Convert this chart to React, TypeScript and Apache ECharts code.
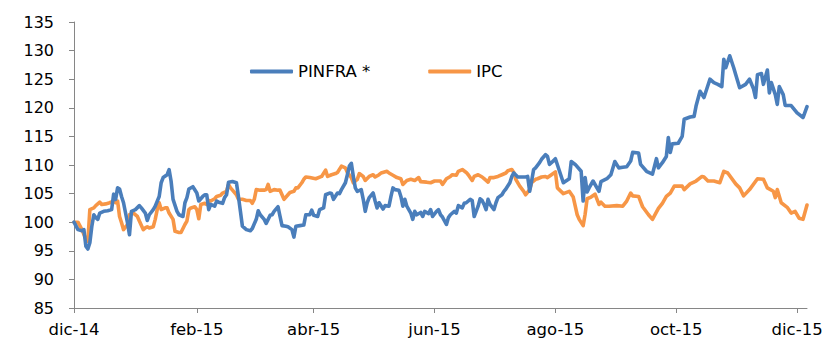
import React, { useEffect, useRef } from "react";
import * as echarts from "echarts";

const seriesNames = ["PINFRA *", "IPC"];
const monthNames = ["ene", "feb", "mar", "abr", "may", "jun", "jul", "ago", "sep", "oct", "nov", "dic"];
const xTickDates = ["2014-12-01", "2015-02-01", "2015-04-01", "2015-06-01", "2015-08-01", "2015-10-01", "2015-12-01"];
const xMin = "2014-12-01";
const xMax = "2015-12-06";
const yMin = 85;
const yMax = 135;
const yStep = 5;

const pinfra: [string, number][] = [
  ["2014-12-01", 100.0], ["2014-12-03", 98.7], ["2014-12-05", 98.5], ["2014-12-06", 98.7], ["2014-12-07", 95.8],
  ["2014-12-08", 95.3], ["2014-12-09", 96.4], ["2014-12-10", 99.3], ["2014-12-11", 101.3], ["2014-12-12", 100.8],
  ["2014-12-13", 100.5], ["2014-12-14", 101.6], ["2014-12-16", 101.9], ["2014-12-18", 102.0], ["2014-12-20", 102.2],
  ["2014-12-21", 104.9], ["2014-12-22", 104.0], ["2014-12-23", 106.0], ["2014-12-24", 105.8], ["2014-12-25", 104.5],
  ["2014-12-26", 103.4], ["2014-12-28", 99.9], ["2014-12-29", 97.8], ["2014-12-30", 101.9], ["2015-01-01", 102.2],
  ["2015-01-03", 102.9], ["2015-01-04", 102.5], ["2015-01-06", 101.6], ["2015-01-07", 100.3], ["2015-01-08", 101.3],
  ["2015-01-10", 102.2], ["2015-01-11", 102.8], ["2015-01-13", 104.5], ["2015-01-14", 106.9], ["2015-01-15", 107.8],
  ["2015-01-17", 108.3], ["2015-01-18", 109.2], ["2015-01-19", 107.2], ["2015-01-20", 104.0], ["2015-01-22", 101.9],
  ["2015-01-23", 101.3], ["2015-01-25", 101.0], ["2015-01-26", 103.4], ["2015-01-27", 104.3], ["2015-01-28", 105.8],
  ["2015-01-30", 106.2], ["2015-02-01", 105.1], ["2015-02-02", 103.7], ["2015-02-04", 104.5], ["2015-02-05", 104.8],
  ["2015-02-06", 104.8], ["2015-02-07", 102.2], ["2015-02-08", 103.1], ["2015-02-10", 102.8], ["2015-02-11", 103.7],
  ["2015-02-12", 103.5], ["2015-02-14", 103.3], ["2015-02-15", 104.3], ["2015-02-16", 104.8], ["2015-02-17", 107.0],
  ["2015-02-19", 107.1], ["2015-02-21", 106.9], ["2015-02-22", 104.5], ["2015-02-23", 101.9], ["2015-02-24", 99.3],
  ["2015-02-26", 98.7], ["2015-02-28", 98.5], ["2015-03-01", 98.9], ["2015-03-03", 100.5], ["2015-03-04", 102.0],
  ["2015-03-05", 101.3], ["2015-03-07", 100.5], ["2015-03-08", 99.8], ["2015-03-10", 101.2], ["2015-03-11", 101.3],
  ["2015-03-12", 101.9], ["2015-03-14", 102.7], ["2015-03-15", 101.0], ["2015-03-16", 99.4], ["2015-03-18", 99.3],
  ["2015-03-19", 99.2], ["2015-03-21", 98.7], ["2015-03-22", 97.4], ["2015-03-23", 99.3], ["2015-03-25", 99.4],
  ["2015-03-27", 99.5], ["2015-03-28", 101.3], ["2015-03-30", 101.3], ["2015-03-31", 102.1], ["2015-04-01", 101.2],
  ["2015-04-03", 101.0], ["2015-04-04", 102.2], ["2015-04-06", 102.5], ["2015-04-07", 104.8], ["2015-04-09", 105.1],
  ["2015-04-10", 105.0], ["2015-04-11", 104.0], ["2015-04-13", 105.1], ["2015-04-14", 105.0], ["2015-04-15", 105.7],
  ["2015-04-17", 106.9], ["2015-04-18", 108.3], ["2015-04-19", 109.8], ["2015-04-20", 110.3], ["2015-04-21", 108.0],
  ["2015-04-22", 106.0], ["2015-04-23", 105.4], ["2015-04-25", 105.7], ["2015-04-26", 104.0], ["2015-04-27", 101.9],
  ["2015-04-28", 103.4], ["2015-04-29", 104.3], ["2015-05-01", 105.1], ["2015-05-02", 103.7], ["2015-05-03", 102.5],
  ["2015-05-04", 103.4], ["2015-05-06", 102.3], ["2015-05-07", 102.9], ["2015-05-09", 102.8], ["2015-05-10", 104.5],
  ["2015-05-11", 106.0], ["2015-05-12", 105.7], ["2015-05-14", 105.6], ["2015-05-15", 104.5], ["2015-05-16", 102.8],
  ["2015-05-17", 104.0], ["2015-05-18", 102.8], ["2015-05-20", 101.6], ["2015-05-21", 100.5], ["2015-05-22", 101.9],
  ["2015-05-23", 101.3], ["2015-05-25", 101.7], ["2015-05-26", 101.0], ["2015-05-27", 101.9], ["2015-05-29", 101.5],
  ["2015-05-30", 102.2], ["2015-05-31", 101.0], ["2015-06-02", 101.9], ["2015-06-03", 102.2], ["2015-06-04", 101.3],
  ["2015-06-05", 100.9], ["2015-06-07", 99.6], ["2015-06-08", 100.8], ["2015-06-09", 101.3], ["2015-06-11", 101.9],
  ["2015-06-12", 101.6], ["2015-06-13", 102.9], ["2015-06-15", 102.5], ["2015-06-16", 103.3], ["2015-06-17", 103.4],
  ["2015-06-19", 104.0], ["2015-06-20", 103.8], ["2015-06-21", 101.0], ["2015-06-23", 102.8], ["2015-06-24", 104.1],
  ["2015-06-25", 103.8], ["2015-06-26", 103.1], ["2015-06-27", 102.2], ["2015-06-28", 104.0], ["2015-06-29", 103.1],
  ["2015-07-01", 102.2], ["2015-07-02", 103.4], ["2015-07-03", 104.3], ["2015-07-05", 104.8], ["2015-07-06", 105.4],
  ["2015-07-07", 105.8], ["2015-07-09", 106.9], ["2015-07-10", 108.0], ["2015-07-11", 108.6], ["2015-07-13", 107.9],
  ["2015-07-15", 107.9], ["2015-07-17", 107.9], ["2015-07-18", 108.0], ["2015-07-19", 105.4], ["2015-07-20", 107.2],
  ["2015-07-21", 109.2], ["2015-07-22", 109.5], ["2015-07-24", 110.4], ["2015-07-25", 111.0], ["2015-07-27", 111.8],
  ["2015-07-28", 111.5], ["2015-07-29", 110.1], ["2015-07-30", 110.4], ["2015-08-01", 111.1], ["2015-08-05", 106.9],
  ["2015-08-08", 107.6], ["2015-08-09", 110.6], ["2015-08-11", 110.1], ["2015-08-14", 108.9], ["2015-08-15", 103.7],
  ["2015-08-16", 107.8], ["2015-08-17", 105.3], ["2015-08-18", 106.0], ["2015-08-20", 107.2], ["2015-08-23", 105.4],
  ["2015-08-24", 107.1], ["2015-08-27", 107.6], ["2015-08-29", 108.3], ["2015-08-31", 110.6], ["2015-09-02", 109.5],
  ["2015-09-04", 109.6], ["2015-09-06", 109.7], ["2015-09-08", 110.7], ["2015-09-09", 112.2], ["2015-09-12", 112.1],
  ["2015-09-13", 110.1], ["2015-09-16", 108.9], ["2015-09-19", 108.4], ["2015-09-21", 111.1], ["2015-09-22", 109.5],
  ["2015-09-24", 110.4], ["2015-09-26", 111.5], ["2015-09-27", 114.8], ["2015-09-28", 112.2], ["2015-09-29", 113.7],
  ["2015-10-02", 113.8], ["2015-10-04", 115.0], ["2015-10-05", 118.0], ["2015-10-08", 118.4], ["2015-10-10", 118.5],
  ["2015-10-11", 120.3], ["2015-10-13", 122.9], ["2015-10-15", 121.8], ["2015-10-18", 125.0], ["2015-10-20", 124.4],
  ["2015-10-22", 124.1], ["2015-10-24", 123.7], ["2015-10-25", 128.5], ["2015-10-26", 127.0], ["2015-10-28", 129.1],
  ["2015-10-30", 127.0], ["2015-10-31", 125.8], ["2015-11-02", 123.5], ["2015-11-05", 124.1], ["2015-11-07", 125.0],
  ["2015-11-09", 123.3], ["2015-11-10", 121.8], ["2015-11-11", 125.8], ["2015-11-13", 126.0], ["2015-11-14", 124.1],
  ["2015-11-16", 126.6], ["2015-11-17", 122.6], ["2015-11-18", 124.4], ["2015-11-20", 122.3], ["2015-11-21", 120.6],
  ["2015-11-22", 123.7], ["2015-11-24", 122.3], ["2015-11-25", 120.4], ["2015-11-28", 120.4], ["2015-12-01", 119.1],
  ["2015-12-04", 118.3], ["2015-12-06", 120.2],
];

const ipc: [string, number][] = [
  ["2014-12-01", 100.0], ["2014-12-03", 100.0], ["2014-12-05", 98.7], ["2014-12-07", 97.0], ["2014-12-08", 96.7],
  ["2014-12-09", 102.2], ["2014-12-11", 102.5], ["2014-12-12", 102.9], ["2014-12-14", 103.5], ["2014-12-15", 103.1],
  ["2014-12-17", 103.2], ["2014-12-19", 103.4], ["2014-12-21", 103.7], ["2014-12-22", 103.4], ["2014-12-23", 103.7],
  ["2014-12-24", 101.0], ["2014-12-25", 99.9], ["2014-12-26", 98.7], ["2014-12-28", 99.6], ["2014-12-29", 101.3],
  ["2014-12-31", 101.6], ["2015-01-02", 101.0], ["2015-01-03", 100.2], ["2015-01-05", 98.7], ["2015-01-06", 99.0],
  ["2015-01-07", 99.2], ["2015-01-08", 99.0], ["2015-01-10", 99.2], ["2015-01-11", 100.5], ["2015-01-12", 102.2],
  ["2015-01-13", 103.4], ["2015-01-14", 102.2], ["2015-01-16", 102.5], ["2015-01-17", 102.5], ["2015-01-18", 101.6],
  ["2015-01-20", 100.5], ["2015-01-21", 98.4], ["2015-01-23", 98.2], ["2015-01-24", 98.2], ["2015-01-26", 99.6],
  ["2015-01-27", 100.2], ["2015-01-28", 102.2], ["2015-01-29", 102.5], ["2015-01-31", 102.7], ["2015-02-01", 102.2],
  ["2015-02-02", 100.6], ["2015-02-03", 103.1], ["2015-02-05", 103.3], ["2015-02-06", 103.1], ["2015-02-07", 103.8],
  ["2015-02-08", 103.7], ["2015-02-10", 104.1], ["2015-02-11", 104.5], ["2015-02-13", 104.7], ["2015-02-14", 105.1],
  ["2015-02-16", 105.4], ["2015-02-17", 106.6], ["2015-02-18", 106.0], ["2015-02-19", 105.6], ["2015-02-21", 104.8],
  ["2015-02-22", 104.0], ["2015-02-24", 104.0], ["2015-02-26", 103.8], ["2015-02-28", 103.8], ["2015-03-01", 103.3],
  ["2015-03-02", 104.0], ["2015-03-03", 105.7], ["2015-03-05", 105.6], ["2015-03-07", 105.6], ["2015-03-08", 105.7],
  ["2015-03-09", 106.6], ["2015-03-10", 105.4], ["2015-03-12", 105.7], ["2015-03-14", 105.6], ["2015-03-15", 105.6],
  ["2015-03-17", 104.0], ["2015-03-19", 104.8], ["2015-03-20", 105.2], ["2015-03-22", 105.4], ["2015-03-23", 106.0],
  ["2015-03-24", 106.0], ["2015-03-26", 106.9], ["2015-03-27", 107.5], ["2015-03-28", 107.9], ["2015-03-30", 107.8],
  ["2015-04-02", 107.6], ["2015-04-05", 108.0], ["2015-04-07", 109.1], ["2015-04-08", 108.0], ["2015-04-10", 108.3],
  ["2015-04-12", 108.5], ["2015-04-13", 108.7], ["2015-04-15", 109.8], ["2015-04-17", 109.5], ["2015-04-18", 108.7],
  ["2015-04-20", 107.8], ["2015-04-21", 106.9], ["2015-04-23", 107.5], ["2015-04-24", 108.5], ["2015-04-26", 108.0],
  ["2015-04-27", 107.3], ["2015-04-29", 108.0], ["2015-05-01", 108.3], ["2015-05-02", 107.9], ["2015-05-04", 108.3],
  ["2015-05-05", 108.6], ["2015-05-08", 108.9], ["2015-05-09", 108.6], ["2015-05-11", 108.2], ["2015-05-13", 107.8],
  ["2015-05-15", 107.6], ["2015-05-16", 106.6], ["2015-05-18", 107.3], ["2015-05-20", 107.5], ["2015-05-22", 107.3],
  ["2015-05-24", 107.8], ["2015-05-25", 107.1], ["2015-05-28", 107.0], ["2015-05-30", 106.9], ["2015-06-01", 107.2],
  ["2015-06-04", 107.2], ["2015-06-05", 106.6], ["2015-06-07", 107.6], ["2015-06-09", 108.0], ["2015-06-10", 108.3],
  ["2015-06-12", 108.2], ["2015-06-13", 108.9], ["2015-06-15", 109.2], ["2015-06-17", 108.7], ["2015-06-18", 108.3],
  ["2015-06-20", 107.3], ["2015-06-21", 108.0], ["2015-06-23", 108.3], ["2015-06-25", 107.9], ["2015-06-26", 107.6],
  ["2015-06-28", 107.0], ["2015-06-29", 107.8], ["2015-07-01", 107.8], ["2015-07-03", 108.0], ["2015-07-05", 108.3],
  ["2015-07-07", 108.6], ["2015-07-08", 109.0], ["2015-07-10", 109.2], ["2015-07-11", 108.7], ["2015-07-12", 107.5],
  ["2015-07-14", 106.3], ["2015-07-16", 105.4], ["2015-07-17", 104.8], ["2015-07-19", 105.7], ["2015-07-20", 106.9],
  ["2015-07-22", 107.5], ["2015-07-23", 107.6], ["2015-07-25", 107.9], ["2015-07-27", 108.0], ["2015-07-28", 107.8],
  ["2015-07-30", 108.3], ["2015-08-01", 108.8], ["2015-08-02", 106.0], ["2015-08-05", 105.0], ["2015-08-08", 105.4],
  ["2015-08-10", 104.4], ["2015-08-12", 101.3], ["2015-08-13", 100.5], ["2015-08-15", 99.4], ["2015-08-16", 101.4],
  ["2015-08-17", 104.1], ["2015-08-19", 104.4], ["2015-08-21", 104.9], ["2015-08-23", 103.1], ["2015-08-24", 103.5],
  ["2015-08-26", 102.8], ["2015-08-28", 102.8], ["2015-09-01", 102.9], ["2015-09-04", 102.8], ["2015-09-06", 103.7],
  ["2015-09-08", 105.1], ["2015-09-09", 104.6], ["2015-09-12", 104.5], ["2015-09-14", 102.7], ["2015-09-17", 101.3],
  ["2015-09-19", 100.5], ["2015-09-22", 102.4], ["2015-09-24", 103.3], ["2015-09-26", 104.5], ["2015-09-28", 105.1],
  ["2015-09-30", 106.3], ["2015-10-04", 106.3], ["2015-10-05", 105.7], ["2015-10-08", 106.7], ["2015-10-11", 107.2],
  ["2015-10-14", 108.0], ["2015-10-15", 107.9], ["2015-10-17", 107.2], ["2015-10-20", 107.2], ["2015-10-23", 106.9],
  ["2015-10-25", 108.9], ["2015-10-27", 108.6], ["2015-10-31", 106.7], ["2015-11-02", 106.0], ["2015-11-04", 104.6],
  ["2015-11-07", 105.7], ["2015-11-11", 107.6], ["2015-11-14", 107.5], ["2015-11-16", 106.0], ["2015-11-19", 105.4],
  ["2015-11-20", 104.3], ["2015-11-21", 105.7], ["2015-11-23", 103.4], ["2015-11-26", 102.6], ["2015-11-28", 101.6],
  ["2015-11-30", 101.9], ["2015-12-02", 100.7], ["2015-12-04", 100.5], ["2015-12-06", 103.0],
];

function toTime(s: string): number {
  const [y, m, d] = s.split("-").map(Number);
  return new Date(y, m - 1, d).getTime();
}

export default function App() {
  const ref = useRef<HTMLDivElement>(null);

  useEffect(() => {
    if (!ref.current) return;
    const chart = echarts.init(ref.current, undefined, { renderer: "svg" });
    const font = "DejaVu Sans";
    const axisColor = "#868686";
    const tickTimes = xTickDates.map(toTime);
    chart.setOption({
      animation: false,
      backgroundColor: "#ffffff",
      textStyle: { fontFamily: font },
      grid: { left: 74, top: 22, right: 21, bottom: 44, containLabel: false },
      legend: {
        left: 245,
        top: 58,
        itemWidth: 43,
        itemHeight: 4,
        itemGap: 58,
        icon: "roundRect",
        textStyle: { fontFamily: font, fontSize: 16.5, color: "#000" },
        data: seriesNames,
      },
      xAxis: {
        type: "value",
        min: toTime(xMin),
        max: toTime(xMax),
        scale: true,
        splitLine: { show: false },
        axisLine: { show: true, onZero: false, lineStyle: { color: axisColor, width: 1 } },
        axisTick: { show: true, length: 5, lineStyle: { color: axisColor }, customValues: tickTimes },
        axisLabel: {
          customValues: tickTimes,
          margin: 13,
          fontFamily: font,
          fontSize: 16.5,
          color: "#000",
          showMinLabel: true,
          showMaxLabel: true,
          formatter: (v: number) => {
            const d = new Date(v);
            return monthNames[d.getMonth()] + "-" + String(d.getFullYear()).slice(2);
          },
        },
      },
      yAxis: {
        type: "value",
        min: yMin,
        max: yMax,
        interval: yStep,
        splitLine: { show: false },
        axisLine: { show: true, onZero: false, lineStyle: { color: axisColor, width: 1 } },
        axisTick: { show: true, length: 5, lineStyle: { color: axisColor } },
        axisLabel: { margin: 20, fontFamily: font, fontSize: 16, color: "#000" },
      },
      series: [
        {
          name: seriesNames[0],
          type: "line",
          data: pinfra.map(([d, v]) => [toTime(d), v]),
          showSymbol: false,
          symbol: "none",
          itemStyle: { color: "#4A7EBB" },
          lineStyle: { color: "#4A7EBB", width: 3.6, cap: "round", join: "round" },
          z: 3,
        },
        {
          name: seriesNames[1],
          type: "line",
          data: ipc.map(([d, v]) => [toTime(d), v]),
          showSymbol: false,
          symbol: "none",
          itemStyle: { color: "#F79646" },
          lineStyle: { color: "#F79646", width: 3.6, cap: "round", join: "round" },
          z: 2,
        },
      ],
    });
    return () => chart.dispose();
  }, []);

  return (
    <div
      ref={ref}
      style={{ position: "fixed", left: 0, top: 0, width: 828, height: 352, background: "#fff" }}
    />
  );
}
